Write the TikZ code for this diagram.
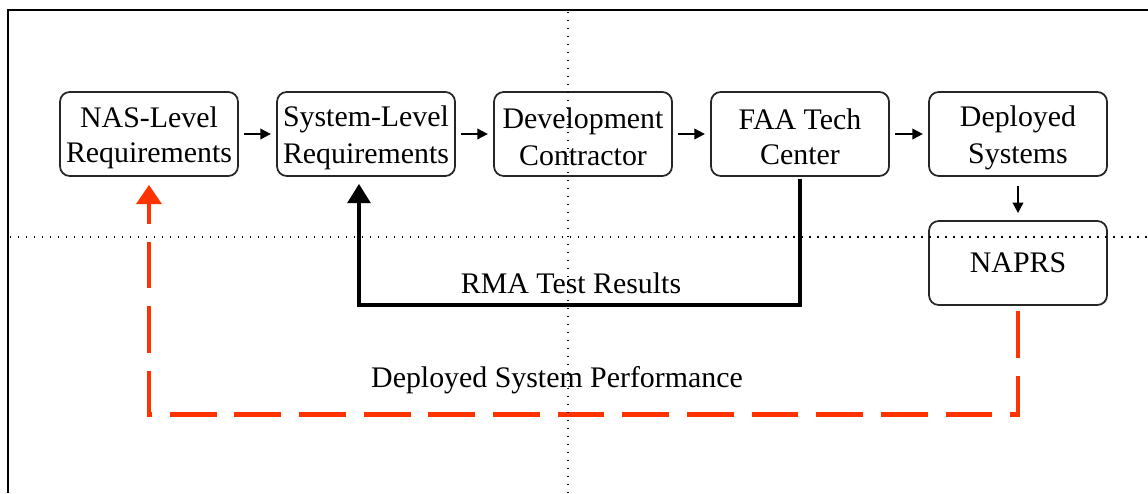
\documentclass[tikz,border=0pt]{standalone}
\usepackage{fontspec}
\setmainfont{Liberation Serif}
\usetikzlibrary{arrows.meta}

\newcommand{\lstrut}{\rule[-1.6pt]{0pt}{18pt}}

\begin{document}
\begin{tikzpicture}[x=0.02cm, y=-0.02cm,
    box/.style={draw=black!85, line width=1pt, rounded corners=5.5pt,
        minimum width=3.56cm, minimum height=1.68cm, align=center,
        inner sep=0pt, font=\fontsize{17}{19.8}\selectfont},
    label/.style={font=\fontsize{17}{19.8}\selectfont},
    flow/.style={line width=1.1pt, -{Triangle[length=6pt, width=6pt]}},
    testpath/.style={line width=2.3pt, -{Triangle[length=11pt, width=13pt]}},
    perfpath/.style={color=redorange, line width=2.8pt,
        dash pattern=on 26.6pt off 10.2pt, -{Triangle[length=11pt, width=14pt]}},
    guide/.style={line width=0.85pt, dash pattern=on 0.85pt off 3.7pt}]
    \definecolor{redorange}{RGB}{255,51,0}

    \useasboundingbox (0, 0) rectangle (1148, 493);

    \draw[line width=1.2pt] (1148, 10) -- (8, 10) -- (8, 493);

    \node[box] (nas) at (149, 134) {NAS-Level\lstrut\\Requirements\lstrut};
    \node[box] (sys) at (366, 134) {System-Level\lstrut\\Requirements\lstrut};
    \node[box] (dev) at (583, 134) {Development\lstrut\\Contractor\lstrut};
    \node[box] (faa) at (800, 134) {FAA Tech\lstrut\\Center\lstrut};
    \node[box] (dep) at (1018, 134) {Deployed\lstrut\\Systems\lstrut};
    \node[box] (naprs) at (1018, 263) {NAPRS};

    \draw[flow, shorten <=3pt, shorten >=3pt] (nas) -- (sys);
    \draw[flow, shorten <=3pt, shorten >=3pt] (sys) -- (dev);
    \draw[flow, shorten <=3pt, shorten >=3pt] (dev) -- (faa);
    \draw[flow, shorten <=3pt, shorten >=3pt] (faa) -- (dep);
    \draw[flow, shorten <=5pt, shorten >=4pt] (dep) -- (naprs);

    \draw[testpath, shorten <=1pt, shorten >=4pt]
        (faa.south) -- ++(0, 128) -| ([xshift=-4]sys.south);
    \node[label] (rma) at (571, 283) {RMA Test Results};

    \draw[perfpath, shorten <=3pt, shorten >=4.5pt]
        (naprs.south) -- ++(0, 109) -| (nas.south);
    \node[label] (perf) at (557, 380) {Deployed System Performance};

    \draw[guide] (10, 237) -- (1148, 237);
    \draw[guide] (568, 12) -- (568, 493);
\end{tikzpicture}
\end{document}
